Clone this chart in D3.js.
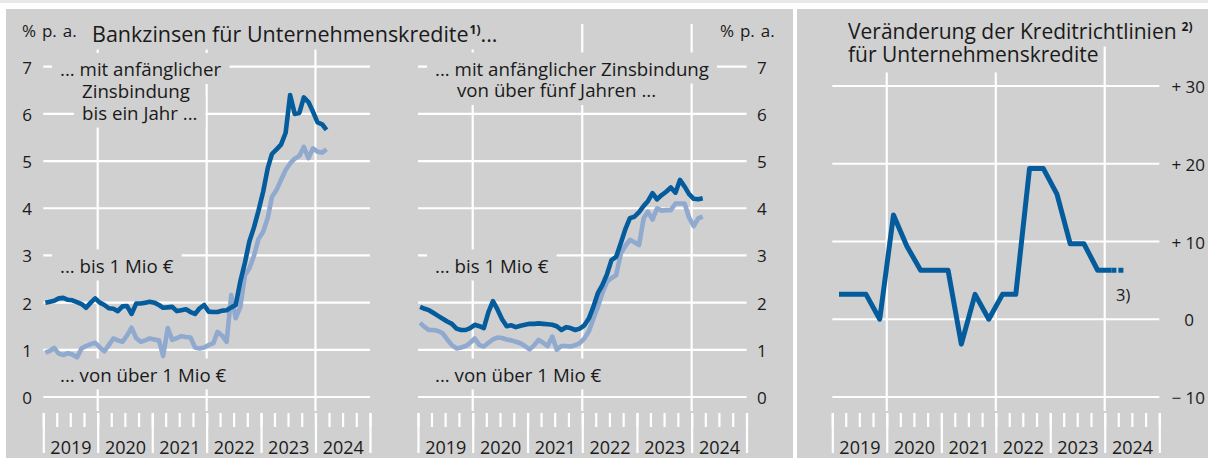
<!DOCTYPE html>
<html>
<head>
<meta charset="utf-8">
<script src="https://cdn.jsdelivr.net/npm/d3@7"></script>
<style>
  body { margin: 0; background: #fff; }
  text { font-family: "Open Sans", "Noto Sans", sans-serif; fill: #1a1a1a; }
</style>
</head>
<body>
<svg id="chart" width="1208" height="459"></svg>
<script>
// --- data -------------------------------------------------------------
const yearLabels = ["2019", "2020", "2021", "2022", "2023", "2024"];
const rateTicks = [0, 1, 2, 3, 4, 5, 6, 7];
const standardsTicks = [-10, 0, 10, 20, 30];
const standardsTickLabels = ["\u2212 10", "0", "+ 10", "+ 20", "+ 30"];

// monthly, Jan 2019 - Mar 2024, % p.a.
const shortSmall = [2.00, 2.02, 2.04, 2.09, 2.10, 2.06, 2.05, 2.01, 1.97, 1.89, 2.00, 2.09,
  2.00, 1.95, 1.88, 1.87, 1.82, 1.92, 1.93, 1.76, 1.98, 1.98, 2.00, 2.02,
  2.00, 1.95, 1.89, 1.90, 1.91, 1.82, 1.84, 1.86, 1.80, 1.76, 1.88, 1.95,
  1.81, 1.80, 1.80, 1.83, 1.84, 1.90, 1.95, 2.45, 2.85, 3.30, 3.60, 3.95,
  4.35, 4.85, 5.15, 5.25, 5.35, 5.60, 6.40, 6.00, 6.02, 6.35, 6.25, 6.05,
  5.82, 5.78, 5.66];
const shortLarge = [0.94, 0.98, 1.04, 0.92, 0.89, 0.93, 0.90, 0.84, 1.03, 1.08, 1.12, 1.15,
  1.05, 0.97, 1.10, 1.24, 1.20, 1.17, 1.30, 1.47, 1.25, 1.17, 1.20, 1.24,
  1.22, 1.20, 0.87, 1.46, 1.21, 1.25, 1.29, 1.27, 1.26, 1.05, 1.03, 1.05,
  1.10, 1.14, 1.38, 1.30, 1.17, 2.16, 1.67, 1.91, 2.58, 2.73, 3.00, 3.35,
  3.50, 3.80, 4.24, 4.39, 4.60, 4.81, 4.95, 5.05, 5.11, 5.30, 5.06, 5.27,
  5.20, 5.18, 5.25];
const longSmall = [1.91, 1.87, 1.84, 1.78, 1.72, 1.66, 1.60, 1.55, 1.45, 1.42, 1.42, 1.46,
  1.53, 1.50, 1.46, 1.80, 2.03, 1.85, 1.65, 1.50, 1.52, 1.48, 1.51, 1.53,
  1.55, 1.55, 1.56, 1.55, 1.54, 1.53, 1.50, 1.42, 1.48, 1.46, 1.42, 1.45,
  1.52, 1.67, 1.90, 2.20, 2.37, 2.60, 2.90, 2.97, 3.26, 3.55, 3.79, 3.82,
  3.92, 4.05, 4.15, 4.32, 4.19, 4.28, 4.35, 4.44, 4.33, 4.60, 4.46, 4.30,
  4.20, 4.19, 4.21];
const longLarge = [1.57, 1.48, 1.42, 1.42, 1.40, 1.35, 1.22, 1.10, 1.03, 1.05, 1.08, 1.15,
  1.24, 1.10, 1.07, 1.15, 1.22, 1.26, 1.25, 1.22, 1.20, 1.17, 1.14, 1.08,
  1.01, 1.10, 1.21, 1.15, 1.08, 1.28, 1.00, 1.08, 1.08, 1.07, 1.10, 1.14,
  1.24, 1.40, 1.65, 1.91, 2.20, 2.44, 2.52, 2.58, 3.04, 3.20, 3.33, 3.28,
  3.22, 3.79, 3.93, 3.76, 4.00, 3.95, 3.96, 3.96, 4.10, 4.10, 4.10, 3.80,
  3.62, 3.79, 3.82];

// quarterly, 2019 Q1 - 2024 Q1, net percentage; 2024 Q2 expected
const standards = [3.2, 3.2, 3.2, 0, 13.4, 9.4, 6.3, 6.3, 6.3, -3.2, 3.2, 0,
  3.2, 3.2, 19.4, 19.4, 16.1, 9.7, 9.7, 6.3, 6.3];
const standardsExpected = [6.3, 6.3]; // 2024 Q1 -> 2024 Q2

// --- setup ------------------------------------------------------------
const svg = d3.select("#chart");
const panelFill = "#d0d0d0";
const darkBlue = "#045c9c";
const lightBlue = "#90a9cf";
const labelSize = 18.7;
const titleSize = 21.5;
const tickSize = 17;

const months = shortSmall.map((d, i) => new Date(2019, i, 15));
const quarters = standards.map((d, i) => new Date(2019, i * 3 + 1, 15));

svg.append("rect").attr("x", 0).attr("y", 0).attr("width", 1208).attr("height", 3).attr("fill", "#e8e8e8");
svg.append("rect").attr("x", 6).attr("y", 9).attr("width", 787).attr("height", 449).attr("fill", panelFill);
svg.append("rect").attr("x", 797).attr("y", 9).attr("width", 411).attr("height", 449).attr("fill", panelFill);

// layers: grid below, then grey boxes behind labels, then labels, then lines
const gridLayer = svg.append("g");
const maskLayer = svg.append("g");
const textLayer = svg.append("g");
const lineLayer = svg.append("g");

function addText(str, x, y, size, anchor) {
    return textLayer.append("text")
        .attr("x", x).attr("y", y)
        .attr("font-size", size)
        .attr("text-anchor", anchor || "start")
        .text(str);
}
function maskText(t, padX, padY) {
    const b = t.node().getBBox();
    maskLayer.append("rect")
        .attr("x", b.x - padX).attr("y", b.y - padY)
        .attr("width", b.width + 2 * padX).attr("height", b.height + 2 * padY)
        .attr("fill", panelFill);
}
function addSuper(t, str, dx) {
    t.append("tspan").attr("font-size", 12).attr("font-weight", 700)
        .attr("dx", dx || 0).attr("dy", -8).text(str);
}

function drawFrame(x, y, ticks) {
    const g = gridLayer.append("g");
    const [x0, x1] = x.range();
    g.append("g").selectAll("line")
        .data(ticks)
        .enter().append("line")
        .attr("x1", x0).attr("x2", x1)
        .attr("y1", d => y(d)).attr("y2", d => y(d))
        .attr("stroke", "#fff").attr("stroke-width", 2.2);
    // vertical grid every two years
    g.append("g").selectAll("line")
        .data([new Date(2020, 0, 1), new Date(2022, 0, 1), new Date(2024, 0, 1)])
        .enter().append("line")
        .attr("x1", d => x(d)).attr("x2", d => x(d))
        .attr("y1", 24).attr("y2", 411)
        .attr("stroke", "#fff").attr("stroke-width", 2.2);

    // x axis: quarter ticks, year ticks, year labels
    const axisY = 413;
    const qAxis = g.append("g").attr("transform", `translate(0,${axisY})`)
        .call(d3.axisBottom(x).ticks(d3.timeMonth.every(3)).tickSize(14).tickFormat(""));
    const yAxis = g.append("g").attr("transform", `translate(0,${axisY})`)
        .call(d3.axisBottom(x).ticks(d3.timeYear.every(1)).tickSize(40).tickFormat(""));
    [qAxis, yAxis].forEach(a => {
        a.select(".domain").remove();
        a.selectAll("line").attr("stroke", "#fff").attr("stroke-width", 2.2);
    });
    const labAxis = g.append("g").attr("transform", `translate(0,${axisY})`)
        .call(d3.axisBottom(x)
            .tickValues(yearLabels.map(d => new Date(+d, 6, 2)))
            .tickSize(0)
            .tickFormat((d, i) => yearLabels[i]));
    labAxis.select(".domain").remove();
    labAxis.attr("font-family", null).attr("font-size", null);
    labAxis.selectAll("text")
        .attr("y", 41).attr("dy", null)
        .attr("font-size", 18)
        .attr("fill", "#1a1a1a");
}

function drawLine(x, y, dates, values, color, width) {
    lineLayer.append("path")
        .datum(values)
        .attr("fill", "none")
        .attr("stroke", color)
        .attr("stroke-width", width)
        .attr("stroke-linejoin", "round")
        .attr("d", d3.line().x((d, i) => x(dates[i])).y(d => y(d)));
}

const xDomain = [new Date(2019, 0, 1), new Date(2025, 0, 1)];
const yRate = d3.scaleLinear().domain([0, 7]).range([397, 66.7]);

// --- left chart: short fixation --------------------------------------
const xA = d3.scaleTime().domain(xDomain).range([43.3, 370]);
drawFrame(xA, yRate, rateTicks);
textLayer.append("g").selectAll("text")
    .data(rateTicks)
    .enter().append("text")
    .attr("x", 32).attr("y", d => yRate(d) + 7)
    .attr("text-anchor", "end")
    .attr("font-size", tickSize)
    .text(d => d);
addText("% p. a.", 22, 36.5, tickSize).attr("word-spacing", 1.5);

const title = textLayer.append("text").attr("x", 92).attr("y", 41.5).attr("font-size", titleSize);
title.append("tspan").text("Bankzinsen für Unternehmenskredite");
addSuper(title, "1)", 1);
title.append("tspan").attr("dy", 8).text("...");
maskText(title, 4, 2);

[["... mit anfänglicher", 60, 76], ["Zinsbindung", 82, 98], ["bis ein Jahr ...", 82, 119.5],
 ["... bis 1 Mio €", 60, 272.5], ["... von über 1 Mio €", 60, 381.5]].forEach(l => {
    maskText(addText(l[0], l[1], l[2], labelSize), 8, 3);
});
drawLine(xA, yRate, months, shortLarge, lightBlue, 4.6);
drawLine(xA, yRate, months, shortSmall, darkBlue, 4.6);

// --- middle chart: long fixation ------------------------------------
const xB = d3.scaleTime().domain(xDomain).range([418, 746.5]);
drawFrame(xB, yRate, rateTicks);
textLayer.append("g").selectAll("text")
    .data(rateTicks)
    .enter().append("text")
    .attr("x", 757).attr("y", d => yRate(d) + 7)
    .attr("font-size", tickSize)
    .text(d => d);
addText("% p. a.", 720, 36.5, tickSize).attr("word-spacing", 1.5);
[["... mit anfänglicher Zinsbindung", 435, 75.5], ["von über fünf Jahren ...", 457, 97],
 ["... bis 1 Mio €", 435, 272.5], ["... von über 1 Mio €", 435, 381.5]].forEach(l => {
    maskText(addText(l[0], l[1], l[2], labelSize), 8, 3);
});
drawLine(xB, yRate, months, longLarge, lightBlue, 4.6);
drawLine(xB, yRate, months, longSmall, darkBlue, 4.6);

// --- right chart: credit standards -----------------------------------
const xC = d3.scaleTime().domain(xDomain).range([832.3, 1159.3]);
const yC = d3.scaleLinear().domain([-10, 30]).range([397, 86]);
drawFrame(xC, yC, standardsTicks);
textLayer.append("g").selectAll("text")
    .data(standardsTicks)
    .enter().append("text")
    .attr("x", d => d === 0 ? 1189 : 1205)
    .attr("y", d => yC(d) + 7)
    .attr("text-anchor", d => d === 0 ? "middle" : "end")
    .attr("font-size", tickSize)
    .text((d, i) => standardsTickLabels[i]);

const t1 = textLayer.append("text").attr("x", 848).attr("y", 38.5).attr("font-size", 21);
t1.append("tspan").text("Veränderung der Kreditrichtlinien");
addSuper(t1, "2)", 5);
maskText(t1, 4, 2);
maskText(addText("für Unternehmenskredite", 848, 61.5, 21), 4, 5);

drawLine(xC, yC, quarters, standards, darkBlue, 5);
lineLayer.append("path")
    .datum(standardsExpected)
    .attr("fill", "none")
    .attr("stroke", darkBlue)
    .attr("stroke-width", 5)
    .attr("stroke-dasharray", "5,2")
    .attr("d", d3.line()
        .x((d, i) => xC(new Date(2024, i * 3 + 1, 15)))
        .y(d => yC(d)));
addText("3)", 1116, 301, 16.5);
</script>
</body>
</html>
